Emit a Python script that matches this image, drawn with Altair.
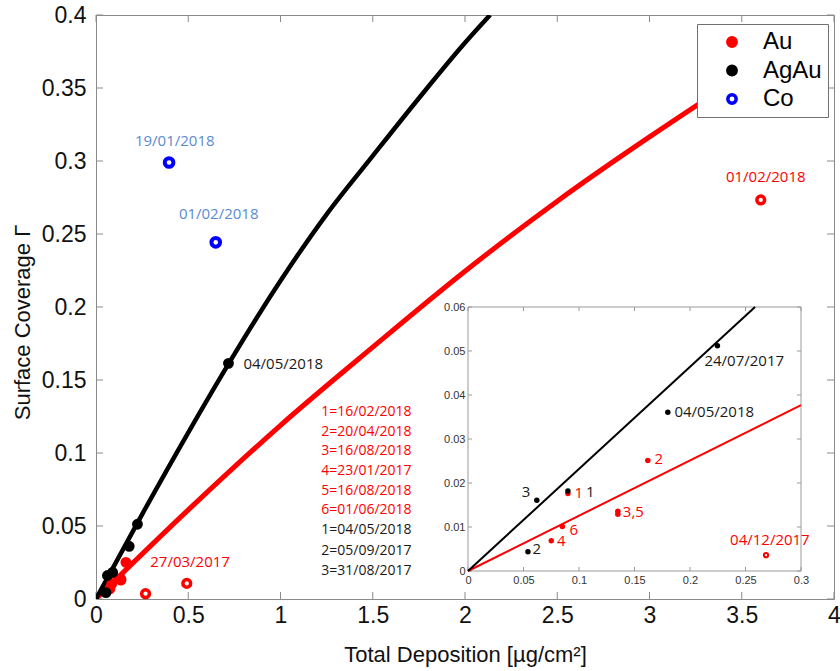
import altair as alt
import pandas as pd

# ---------------- data ----------------
main_x_ticks = [0, 0.5, 1, 1.5, 2, 2.5, 3, 3.5, 4]
main_y_ticks = [0, 0.05, 0.1, 0.15, 0.2, 0.25, 0.3, 0.35, 0.4]
inset_x_ticks = [0, 0.05, 0.1, 0.15, 0.2, 0.25, 0.3]
inset_y_ticks = [0, 0.01, 0.02, 0.03, 0.04, 0.05, 0.06]

# fitted curves, main panel
au_fit_x = [0, 0.5, 1.0, 1.5, 2.0, 2.5, 3.0, 3.5, 3.75]
au_fit_y = [0, 0.061, 0.119, 0.1725, 0.2245, 0.2725, 0.3165, 0.358, 0.3775]
agau_fit_x = [0, 0.25, 0.5, 0.72, 1.0, 1.25, 1.5, 1.75, 2.0, 2.136]
agau_fit_y = [0, 0.058, 0.114, 0.1614, 0.218, 0.2635, 0.3035, 0.343, 0.381, 0.4]

# fitted lines, inset
au_inset_fit_x = [0, 0.3]
au_inset_fit_y = [0, 0.0377]
agau_inset_fit_x = [0, 0.2586]
agau_inset_fit_y = [0, 0.06]

# measurements
au_x = [0.09, 0.162, 0.135, 0.135, 0.075, 0.085]
au_y = [0.0176, 0.0251, 0.0136, 0.0129, 0.0069, 0.0101]
agau_x = [0.062, 0.09, 0.054, 0.18, 0.2247, 0.718]
agau_y = [0.0161, 0.0182, 0.0044, 0.0361, 0.0512, 0.1614]
co_x = [0.396, 0.649]
co_y = [0.299, 0.2443]
au_open_x = [0.2685, 0.492, 3.603]
au_open_y = [0.0036, 0.0107, 0.2733]

series_names = ["Au", "AgAu", "Co"]

# annotations, main panel
blue_labels = ["19/01/2018", "01/02/2018"]
blue_label_x = [0.427, 0.665]
blue_label_y = [0.3137, 0.2637]
red_labels = ["01/02/2018", "27/03/2017"]
red_label_x = [3.63, 0.51]
red_label_y = [0.2887, 0.0253]
black_labels = ["04/05/2018"]
black_label_x = [0.799]
black_label_y = [0.161]
au_key = ["1=16/02/2018", "2=20/04/2018", "3=16/08/2018",
          "4=23/01/2017", "5=16/08/2018", "6=01/06/2018"]
au_key_y = [0.1281, 0.1144, 0.1014, 0.0877, 0.074, 0.061]
agau_key = ["1=04/05/2018", "2=05/09/2017", "3=31/08/2017"]
agau_key_y = [0.0473, 0.0329, 0.0192]
key_x = 1.221

# annotations, inset
in_red_labels = ["1", "2", "3,5", "6", "4", "04/12/2017"]
in_red_x = [0.096, 0.168, 0.1395, 0.0915, 0.0801, 0.2361]
in_red_y = [0.0178, 0.0254, 0.0133, 0.0094, 0.0069, 0.0070]
in_black_labels = ["1", "2", "04/05/2018", "24/07/2017"]
in_black_x = [0.1062, 0.0582, 0.186, 0.213]
in_black_y = [0.0180, 0.0049, 0.0361, 0.0478]
in_black3_label = ["3"]
in_black3_x = [0.0561]
in_black3_y = [0.0180]

# ---------------- styling ----------------
W, H = 738, 584
GREY = "#8a8a8a"
IGREY = "#9a9a9a"
AX_FONT = "Liberation Sans"
TX_FONT = "Open Sans"
RED = "#ff0000"
BLUE = "#0000ff"
BLUE_TXT = "#5b8bd0"
BLACK_TXT = "#1a1a1a"

# inset placement (pixel range within plot area)
IX0, IX1 = 372, 705
IY0, IY1 = 556, 292

MAIN_XS = alt.Scale(domain=[0, 4], nice=False, zero=False)
MAIN_YS = alt.Scale(domain=[0, 0.4], nice=False, zero=False)
INS_XS = alt.Scale(domain=[0, 0.3], range=[IX0, IX1], nice=False, zero=False)
INS_YS = alt.Scale(domain=[0, 0.06], range=[IY0, IY1], nice=False, zero=False)

ax_mx_lab = alt.Axis(orient="bottom", values=main_x_ticks, format="~g", ticks=False, domain=False,
                     grid=False, labelFont=AX_FONT, labelFontSize=23,
                     labelColor="#111111", labelPadding=5, labelFlush=False, labelOverlap=False,
                     title="Total Deposition [µg/cm²]", titleFont=AX_FONT, titleFontSize=22,
                     titleFontWeight="normal", titleColor="#111111", titleY=62, titleBaseline="alphabetic")
ax_my_lab = alt.Axis(orient="left", values=main_y_ticks, format="~g", ticks=False, domain=False,
                     grid=False, labelFont=AX_FONT, labelFontSize=23,
                     labelColor="#111111", labelPadding=10, labelFlush=False, labelOverlap=False,
                     title="Surface Coverage Γ", titleFont=AX_FONT, titleFontSize=22,
                     titleFontWeight="normal", titleColor="#111111", titleX=-67, titleY=307,
                     titleAngle=270, titleAlign="center", titleBaseline="alphabetic")
ax_ix_lab = alt.Axis(orient="bottom", offset=IY0 - H, values=inset_x_ticks, format="~g", ticks=False,
                     domain=False, grid=False, labelFont=AX_FONT, labelFontSize=11,
                     labelColor="#333333", labelPadding=3, labelFlush=False, labelOverlap=False, title=None)
ax_iy_lab = alt.Axis(orient="left", offset=-IX0, values=inset_y_ticks, format="~g", ticks=False,
                     domain=False, grid=False, labelFont=AX_FONT, labelFontSize=11,
                     labelColor="#333333", labelPadding=3, labelFlush=False, labelOverlap=False, title=None)


def xm(field="x"):
    return alt.X(f"{field}:Q", scale=MAIN_XS, axis=ax_mx_lab)


def ym(field="y"):
    return alt.Y(f"{field}:Q", scale=MAIN_YS, axis=ax_my_lab)


def xi(field="x"):
    return alt.X(f"{field}:Q", scale=INS_XS, axis=ax_ix_lab)


def yi(field="y"):
    return alt.Y(f"{field}:Q", scale=INS_YS, axis=ax_iy_lab)


legend = alt.Legend(orient="none", legendX=601, legendY=9, title=None, labelFont=AX_FONT,
                    labelFontSize=24, labelColor="#000000", symbolType="circle", symbolSize=70,
                    symbolStrokeWidth=3.5, symbolOpacity=1, fillColor="white", strokeColor="#707070",
                    padding=6, rowPadding=4.5, symbolOffset=17, labelOffset=19, labelLimit=200)
fill_enc = alt.Fill("series:N", scale=alt.Scale(domain=series_names, range=[RED, "#000000", "#ffffff"]),
                    legend=legend)
stroke_enc = alt.Stroke("series:N", scale=alt.Scale(domain=series_names, range=[RED, "#000000", BLUE]),
                        legend=legend)


def df(**cols):
    return pd.DataFrame(cols)


def texts(labels, xs, ys, color, size, xf, yf, align="left"):
    return alt.Chart(df(label=labels, x=xs, y=ys)).mark_text(
        font=TX_FONT, fontSize=size, color=color, align=align, baseline="middle"
    ).encode(x=xf(), y=yf(), text="label:N")


def edge_ticks(xticks, yticks, xs, ys, xax, yax, size, color):
    """Inward MATLAB-style ticks on all four sides, positioned through the scales."""
    half = size / 2.0
    layers = []
    for edge, off in ((yticks[0], -half), (yticks[-1], half)):
        layers.append(alt.Chart(df(v=xticks)).mark_tick(
            orient="vertical", size=size, thickness=1, color=color, opacity=1, yOffset=off).encode(
            x=alt.X("v:Q", scale=xs, axis=xax),
            y=alt.Y(datum=edge, type="quantitative", scale=ys, axis=yax)))
    for edge, off in ((xticks[0], half), (xticks[-1], -half)):
        layers.append(alt.Chart(df(v=yticks)).mark_tick(
            orient="horizontal", size=size, thickness=1, color=color, opacity=1, xOffset=off).encode(
            y=alt.Y("v:Q", scale=ys, axis=yax),
            x=alt.X(datum=edge, type="quantitative", scale=xs, axis=xax)))
    return layers


# ---------------- main panel ----------------
m_red = alt.Chart(df(x=au_fit_x, y=au_fit_y)).mark_line(
    color=RED, strokeWidth=5, interpolate="monotone", clip=True).encode(x=xm(), y=ym())
m_black = alt.Chart(df(x=agau_fit_x, y=agau_fit_y)).mark_line(
    color="#000000", strokeWidth=4.5, interpolate="monotone", clip=True).encode(x=xm(), y=ym())

m_au = alt.Chart(df(x=au_x, y=au_y, series=["Au"] * len(au_x))).mark_point(
    shape="circle", filled=True, size=70, strokeWidth=2.5, opacity=1).encode(
    x=xm(), y=ym(), fill=fill_enc, stroke=stroke_enc)
m_agau = alt.Chart(df(x=agau_x, y=agau_y, series=["AgAu"] * len(agau_x))).mark_point(
    shape="circle", filled=True, size=70, strokeWidth=2.5, opacity=1).encode(
    x=xm(), y=ym(), fill=fill_enc, stroke=stroke_enc)
m_co = alt.Chart(df(x=co_x, y=co_y, series=["Co"] * len(co_x))).mark_point(
    shape="circle", filled=True, size=75, strokeWidth=4, opacity=1).encode(
    x=xm(), y=ym(), fill=fill_enc, stroke=stroke_enc)
m_open = alt.Chart(df(x=au_open_x, y=au_open_y)).mark_point(
    shape="circle", filled=True, size=60, strokeWidth=3.5, fill="white", stroke=RED, opacity=1).encode(
    x=xm(), y=ym())

m_txt_blue = texts(blue_labels, blue_label_x, blue_label_y, BLUE_TXT, 15, xm, ym, "center")
m_txt_red = texts(red_labels, red_label_x, red_label_y, RED, 15, xm, ym, "center")
m_txt_black = texts(black_labels, black_label_x, black_label_y, BLACK_TXT, 15, xm, ym)
m_key_au = texts(au_key, [key_x] * len(au_key), au_key_y, RED, 14, xm, ym)
m_key_agau = texts(agau_key, [key_x] * len(agau_key), agau_key_y, BLACK_TXT, 14, xm, ym)

main = alt.layer(m_red,
                 *edge_ticks(main_x_ticks, main_y_ticks, MAIN_XS, MAIN_YS, ax_mx_lab, ax_my_lab, 7, GREY),
                 m_black, m_au, m_agau, m_co, m_open,
                 m_txt_blue, m_txt_red, m_txt_black, m_key_au, m_key_agau)

# ---------------- inset ----------------
i_bg = alt.Chart(df(x0=[inset_x_ticks[0]], x1=[inset_x_ticks[-1]],
                    y0=[inset_y_ticks[0]], y1=[inset_y_ticks[-1]])).mark_rect(
    fill="white", stroke=IGREY, strokeWidth=1).encode(
    x=xi("x0"), x2="x1:Q", y=yi("y0"), y2="y1:Q")
i_red = alt.Chart(df(x=au_inset_fit_x, y=au_inset_fit_y)).mark_line(
    color=RED, strokeWidth=2, clip=True).encode(x=xi(), y=yi())
i_black = alt.Chart(df(x=agau_inset_fit_x, y=agau_inset_fit_y)).mark_line(
    color="#000000", strokeWidth=2, clip=True).encode(x=xi(), y=yi())
i_au = alt.Chart(df(x=au_x, y=au_y)).mark_point(
    shape="circle", filled=True, size=30, color=RED, opacity=1).encode(x=xi(), y=yi())
i_agau = alt.Chart(df(x=agau_x[:5], y=agau_y[:5])).mark_point(
    shape="circle", filled=True, size=30, color="#000000", opacity=1).encode(x=xi(), y=yi())
i_open = alt.Chart(df(x=au_open_x[:1], y=au_open_y[:1])).mark_point(
    shape="circle", filled=True, size=18, strokeWidth=2, fill="white", stroke=RED, opacity=1).encode(
    x=xi(), y=yi())
i_txt_red = texts(in_red_labels, in_red_x, in_red_y, RED, 15, xi, yi)
i_txt_black = texts(in_black_labels, in_black_x, in_black_y, BLACK_TXT, 15, xi, yi)
i_txt_black3 = texts(in_black3_label, in_black3_x, in_black3_y, BLACK_TXT, 15, xi, yi, "right")

inset = alt.layer(i_bg,
                  *edge_ticks(inset_x_ticks, inset_y_ticks, INS_XS, INS_YS, ax_ix_lab, ax_iy_lab, 4, IGREY),
                  i_red, i_black, i_au, i_agau, i_open,
                  i_txt_red, i_txt_black, i_txt_black3)

chart = alt.layer(main, inset).resolve_scale(x="independent", y="independent").properties(
    width=W, height=H,
    padding={"left": 96, "top": 15, "right": 6, "bottom": 72},
    autosize=alt.AutoSizeParams(type="none"),
    background="white",
).configure_view(stroke=GREY, strokeWidth=1)

chart.save("out.html", embed_options={"renderer": "svg", "actions": False})
